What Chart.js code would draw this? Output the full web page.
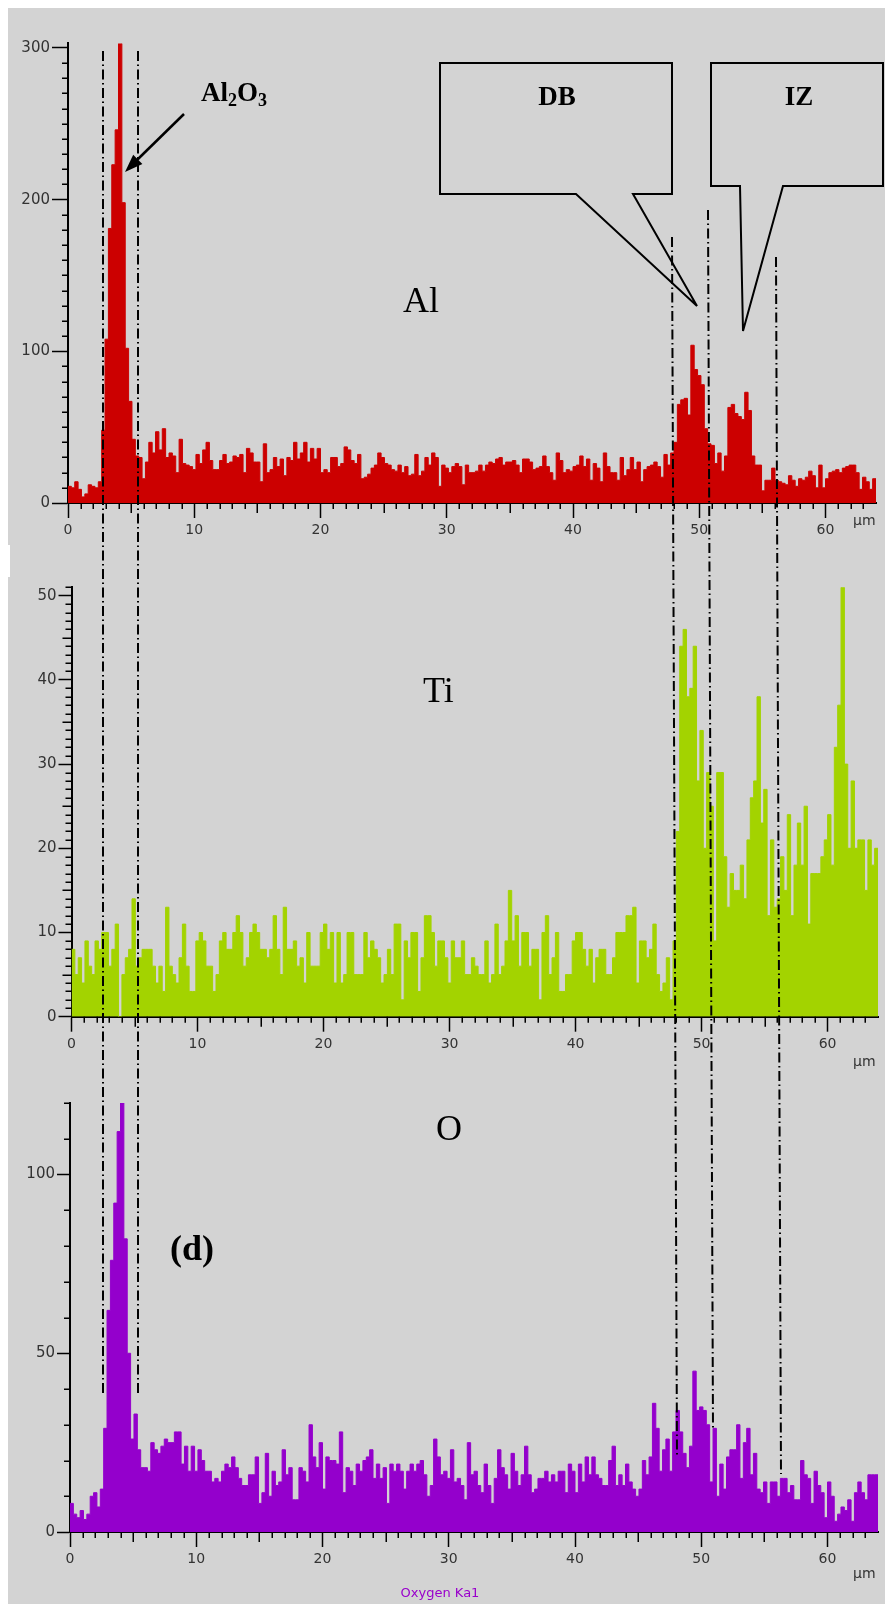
<!DOCTYPE html>
<html>
<head>
<meta charset="utf-8">
<title>Al / Ti / O line scan</title>
<script src="https://cdn.jsdelivr.net/npm/chart.js@4.4.1/dist/chart.umd.min.js"></script>
<style>
  html, body { margin: 0; padding: 0; }
  body { width: 885px; height: 1604px; background: #d3d3d3; position: relative; overflow: hidden; }
  .strip { position: absolute; background: #fff; }
  canvas { position: absolute; left: 0; }
  #overlay { position: absolute; left: 0; top: 0; }
</style>
</head>
<body>
<div class="strip" style="left:0;top:0;width:885px;height:8px"></div>
<div class="strip" style="left:0;top:0;width:8px;height:1604px"></div>
<div class="strip" style="left:0;top:545px;width:10px;height:32px"></div>

<canvas id="al" width="885" height="560" style="top:0"></canvas>
<canvas id="ti" width="885" height="510" style="top:560px"></canvas>
<canvas id="ox" width="885" height="534" style="top:1070px"></canvas>

<svg id="overlay" width="885" height="1604" xmlns="http://www.w3.org/2000/svg">
  <g stroke="#000" stroke-width="2" stroke-dasharray="10 3.5 1.5 3.5" fill="none">
    <line x1="103" y1="51" x2="103" y2="1396"/>
    <line x1="138" y1="51" x2="138" y2="1396"/>
    <line x1="672" y1="237" x2="677" y2="1455"/>
    <line x1="708" y1="210" x2="713" y2="1428"/>
    <line x1="776" y1="257" x2="781" y2="1474"/>
  </g>
  <!-- callouts -->
  <g stroke="#000" stroke-width="2" fill="none" stroke-linejoin="miter">
    <path d="M633,194 L672,194 L672,63 L440,63 L440,194 L576,194 L697,306 Z"/>
    <path d="M783,186 L883,186 L883,63 L711,63 L711,186 L740,186 L743,331 Z"/>
    <line x1="184" y1="114" x2="137" y2="160" stroke-width="2.5"/>
  </g>
  <polygon points="125,172 142.4,164 133.2,154.8" fill="#000"/>

  <g font-family="Liberation Serif, Times New Roman, serif" fill="#000">
    <text x="201" y="101" font-size="27" font-weight="bold">Al<tspan font-size="18" dy="5">2</tspan><tspan dy="-5">O</tspan><tspan font-size="18" dy="5">3</tspan></text>
    <text x="557" y="105" font-size="27" font-weight="bold" text-anchor="middle">DB</text>
    <text x="799" y="105" font-size="27" font-weight="bold" text-anchor="middle">IZ</text>
    <text x="403" y="312" font-size="36">Al</text>
    <text x="423" y="702" font-size="36">Ti</text>
    <text x="436" y="1140" font-size="36">O</text>
    <text x="170" y="1260" font-size="36" font-weight="bold">(d)</text>
  </g>
  <g font-family="DejaVu Sans, sans-serif" font-size="14" fill="#333">
    <text x="853" y="525">µm</text>
    <text x="853" y="1066">µm</text>
    <text x="853" y="1578">µm</text>
  </g>
  <text x="440" y="1597" font-family="DejaVu Sans, sans-serif" font-size="13" fill="#9900cc" text-anchor="middle">Oxygen Ka1</text>
</svg>

<script>
// Line scan counts, one value per 0.267 µm step (240 steps over 64 µm)
var alCounts = [
  11, 10, 14, 9, 4, 6, 12, 11, 10, 14,
  48, 108, 181, 223, 246, 303, 198, 102, 67, 42,
  31, 30, 16, 27, 40, 33, 47, 35, 49, 30,
  33, 31, 20, 42, 26, 25, 24, 22, 32, 26,
  35, 40, 28, 22, 22, 28, 32, 26, 27, 31,
  30, 32, 20, 36, 33, 27, 27, 14, 39, 20,
  22, 30, 24, 29, 18, 30, 28, 40, 29, 33,
  40, 27, 36, 29, 36, 20, 22, 20, 30, 30,
  24, 26, 37, 35, 28, 26, 32, 16, 17, 19,
  23, 25, 33, 30, 26, 25, 22, 21, 25, 20,
  24, 18, 19, 32, 18, 21, 30, 25, 33, 30,
  11, 25, 23, 20, 24, 26, 24, 12, 25, 20,
  20, 21, 25, 21, 25, 27, 26, 29, 30, 25,
  27, 27, 28, 25, 20, 29, 29, 27, 22, 23,
  24, 31, 24, 20, 15, 33, 28, 20, 22, 21,
  24, 25, 31, 24, 29, 15, 26, 23, 14, 33,
  24, 20, 20, 15, 30, 18, 22, 30, 22, 27,
  14, 22, 24, 25, 27, 24, 17, 32, 25, 33,
  40, 65, 68, 69, 58, 104, 88, 84, 78, 49,
  39, 38, 26, 33, 21, 31, 63, 65, 59, 57,
  55, 73, 61, 31, 25, 25, 8, 15, 15, 23,
  15, 14, 13, 12, 18, 15, 11, 16, 15, 17,
  21, 18, 10, 25, 10, 16, 20, 21, 22, 20,
  23, 24, 25, 25, 20, 9, 17, 14, 9, 16
];
var tiCounts = [
  8, 5, 7, 4, 9, 6, 5, 9, 8, 10,
  10, 6, 8, 11, 0, 5, 7, 8, 14, 6,
  7, 8, 8, 8, 6, 4, 6, 3, 13, 6,
  5, 4, 7, 11, 6, 3, 3, 9, 10, 9,
  6, 6, 3, 5, 9, 10, 8, 8, 10, 12,
  10, 6, 7, 10, 11, 10, 8, 8, 7, 8,
  12, 8, 5, 13, 8, 8, 9, 6, 7, 4,
  10, 6, 6, 6, 10, 11, 8, 10, 4, 10,
  4, 5, 10, 10, 5, 5, 5, 10, 7, 9,
  8, 7, 4, 5, 8, 5, 11, 11, 2, 9,
  7, 10, 10, 3, 7, 12, 12, 10, 6, 9,
  9, 7, 4, 9, 7, 7, 9, 5, 5, 7,
  6, 5, 5, 9, 4, 5, 11, 5, 6, 9,
  15, 9, 12, 6, 10, 10, 6, 8, 8, 2,
  10, 12, 5, 7, 10, 3, 3, 5, 5, 9,
  10, 10, 8, 6, 8, 4, 7, 8, 8, 5,
  5, 7, 10, 10, 10, 12, 12, 13, 4, 9,
  9, 7, 8, 11, 5, 3, 4, 7, 2, 9,
  22, 44, 46, 38, 39, 44, 28, 34, 20, 29,
  25, 9, 29, 29, 19, 13, 17, 15, 15, 18,
  14, 21, 26, 28, 38, 23, 27, 12, 21, 13,
  14, 19, 15, 24, 12, 18, 23, 18, 25, 11,
  17, 17, 17, 19, 21, 24, 18, 32, 37, 51,
  30, 20, 28, 20, 21, 21, 15, 21, 18, 20
];
var oCounts = [
  8, 5, 4, 6, 3.5, 5, 10, 11, 7, 12,
  29, 62, 76, 92, 112, 120, 82, 50, 26, 33,
  23, 18, 18, 17, 25, 23, 22, 24, 26, 25,
  25, 28, 28, 19, 24, 17, 24, 17, 23, 20,
  17, 17, 14, 15, 14, 17, 19, 18, 21, 18,
  15, 13, 13, 16, 16, 21, 8, 11, 22, 10,
  17, 13, 14, 23, 16, 18, 9, 9, 18, 17,
  14, 30, 21, 18, 25, 12, 21, 20, 20, 19,
  28, 11, 18, 17, 13, 19, 17, 20, 21, 23,
  15, 19, 15, 18, 8, 19, 17, 19, 17, 12,
  17, 19, 17, 19, 20, 16, 10, 13, 26, 21,
  16, 17, 15, 23, 14, 15, 13, 9, 25, 16,
  17, 13, 11, 19, 13, 8, 15, 23, 18, 16,
  12, 22, 17, 13, 16, 24, 16, 11, 12, 15,
  15, 17, 14, 16, 14, 17, 17, 11, 19, 17,
  11, 19, 14, 21, 16, 21, 16, 15, 13, 13,
  20, 24, 13, 16, 13, 19, 14, 12, 10, 12,
  20, 16, 21, 36, 29, 17, 23, 26, 17, 28,
  34, 28, 22, 18, 24, 45, 34, 35, 34, 30,
  14, 29, 10, 19, 12, 21, 23, 23, 30, 15,
  25, 29, 16, 22, 12, 11, 14, 8, 14, 14,
  10, 15, 15, 11, 13, 9, 9, 20, 16, 15,
  8, 17, 13, 11, 4, 14, 10, 3, 5, 7,
  6, 9, 3, 11, 14, 11, 9, 16, 16, 16
];

var scanLength = 64; // µm
var xTicks = [0, 10, 20, 30, 40, 50, 60];
var alTicks = [0, 100, 200, 300];
var tiTicks = [0, 10, 20, 30, 40, 50];
var oTicks = [0, 50, 100];

// small ticks between the labelled ones
var minorTicks = {
  id: 'minorTicks',
  afterDraw: function(chart, args, opts) {
    var ctx = chart.ctx, x = chart.scales.x, y = chart.scales.y;
    var v, p, len;
    ctx.save();
    ctx.strokeStyle = '#000';
    ctx.lineWidth = 1.5;
    ctx.beginPath();
    for (v = 1; v < x.max; v++) {
      if (v % 10 === 0) continue;
      p = Math.round(x.getPixelForValue(v)) + 0.25;
      len = v % 5 === 0 ? 10 : 6;
      ctx.moveTo(p, x.top);
      ctx.lineTo(p, x.top + len);
    }
    for (v = opts.yStep; v <= y.max; v += opts.yStep) {
      if (opts.major.indexOf(v) >= 0) continue;
      p = Math.round(y.getPixelForValue(v)) + 0.25;
      len = (opts.yMid && v % opts.yMid === 0) ? 9 : 6;
      ctx.moveTo(y.right, p);
      ctx.lineTo(y.right - len, p);
    }
    ctx.stroke();
    ctx.restore();
  }
};

function stepPoints(counts) {
  var w = scanLength / counts.length;
  var pts = counts.map(function(v, i) { return {x: i * w, y: v}; });
  pts.push({x: scanLength, y: counts[counts.length - 1]}); // closes the last step
  return pts;
}

function panel(id, counts, color, yMax, yTicks, minor, box) {
  var canvas = document.getElementById(id);
  return new Chart(canvas, {
    type: 'line',
    data: {
      datasets: [{
        data: stepPoints(counts),
        stepped: true,
        fill: 'origin',
        backgroundColor: color,
        borderColor: color,
        borderWidth: 1,
        pointRadius: 0
      }]
    },
    options: {
      responsive: false,
      animation: false,
      events: [],
      layout: {
        autoPadding: false,
        padding: {left: 0, top: box.top, right: canvas.width - box.right, bottom: 0}
      },
      plugins: {
        legend: {display: false},
        tooltip: {enabled: false},
        minorTicks: minor
      },
      scales: {
        x: {
          type: 'linear',
          min: 0,
          max: scanLength,
          afterBuildTicks: function(s) { s.ticks = xTicks.map(function(v) { return {value: v}; }); },
          afterFit: function(s) { s.height = canvas.height - box.bottom; s.paddingLeft = 0; s.paddingRight = 0; },
          border: {display: true, color: '#000', width: 2},
          grid: {drawOnChartArea: false, tickLength: 15, tickColor: '#000', tickWidth: 1.5},
          ticks: {color: '#333', font: {family: 'DejaVu Sans', size: 14}, padding: 4, maxRotation: 0, autoSkip: false}
        },
        y: {
          min: 0,
          max: yMax,
          afterBuildTicks: function(s) { s.ticks = yTicks.map(function(v) { return {value: v}; }); },
          afterFit: function(s) { s.width = box.left; s.paddingTop = 0; s.paddingBottom = 0; },
          border: {display: true, color: '#000', width: 2},
          grid: {drawOnChartArea: false, tickLength: minor.majorLen, tickColor: '#000', tickWidth: 1.5},
          ticks: {color: '#333', font: {family: 'DejaVu Sans', size: 15}, padding: 2, autoSkip: false}
        }
      }
    },
    plugins: [minorTicks]
  });
}

panel('al', alCounts, '#cc0000', 303, alTicks,
  {yStep: 10, yMid: 0, major: alTicks, majorLen: 16},
  {left: 68, right: 876, top: 43.4, bottom: 503});
panel('ti', tiCounts, '#a3d300', 51, tiTicks,
  {yStep: 1, yMid: 5, major: tiTicks, majorLen: 13},
  {left: 71.5, right: 878, top: 27.3, bottom: 456.7});
panel('ox', oCounts, '#9400cc', 120, oTicks,
  {yStep: 10, yMid: 0, major: oTicks, majorLen: 13},
  {left: 70, right: 878, top: 33, bottom: 462});
</script>
</body>
</html>
